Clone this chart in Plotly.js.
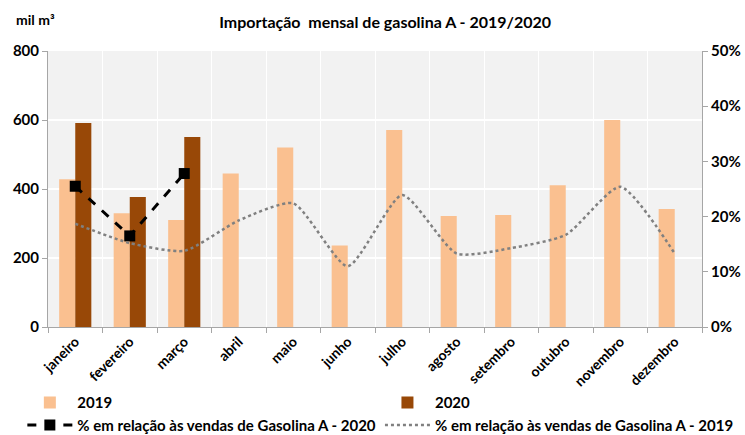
<!DOCTYPE html>
<html>
<head>
<meta charset="utf-8">
<script src="https://cdn.plot.ly/plotly-3.0.1.min.js"></script>
<style>
  body { margin: 0; background: #fff; }
  #myDiv { width: 745px; height: 435px; }
</style>
</head>
<body>
<div id="myDiv"></div>
<script>
// months and values
var meses = ['janeiro', 'fevereiro', 'março', 'abril', 'maio', 'junho',
             'julho', 'agosto', 'setembro', 'outubro', 'novembro', 'dezembro'];

var imp2019 = [428, 330, 310, 445, 520, 236, 571, 322, 325, 411, 600, 342];
var imp2020 = [591, 377, 551, null, null, null, null, null, null, null, null, null];

var pct2020 = [0.255, 0.165, 0.278, null, null, null, null, null, null, null, null, null];
var pct2019 = [0.187, 0.152, 0.138, 0.193, 0.224, 0.110, 0.239, 0.133, 0.143, 0.167, 0.254, 0.133];

var fonte = 'Lato, sans-serif';

var data = [{
    x: meses,
    y: imp2019,
    name: '<b>2019</b>',
    type: 'bar',
    legend: 'legend',
    marker: {color: '#FAC090'}
}, {
    x: meses,
    y: imp2020,
    name: '<b>2020</b>',
    type: 'bar',
    legend: 'legend2',
    marker: {color: '#984807'}
}, {
    x: meses,
    y: pct2020,
    name: '<b>% em relação às vendas de Gasolina A - 2020</b>',
    type: 'scatter',
    mode: 'lines+markers',
    yaxis: 'y2',
    legend: 'legend',
    line: {color: '#000000', width: 3, dash: 'dash'},
    marker: {symbol: 'square', size: 11, color: '#000000'}
}, {
    x: meses,
    y: pct2019,
    name: '<b>% em relação às vendas de Gasolina A - 2019</b>',
    type: 'scatter',
    mode: 'lines',
    yaxis: 'y2',
    legend: 'legend2',
    line: {color: '#808080', width: 2.5, dash: 'dot', shape: 'spline', smoothing: 0.6}
}];

var legendaBase = {
    orientation: 'v',
    xref: 'container', yref: 'container',
    xanchor: 'left',
    y: 0.112, yanchor: 'top',
    itemwidth: 45,
    tracegroupgap: 0,
    traceorder: 'normal',
    font: {size: 15},
    bgcolor: 'rgba(0,0,0,0)'
};

var layout = {
    width: 745,
    height: 435,
    margin: {l: 48, r: 43, t: 51, b: 108, autoexpand: false},
    paper_bgcolor: '#ffffff',
    plot_bgcolor: '#F2F2F2',
    font: {family: fonte, size: 13, color: '#000000'},
    barmode: 'group',
    bargap: 0.41,
    bargroupgap: 0,
    title: {
        text: '<b>Importação  mensal de gasolina A - 2019/2020</b>',
        font: {size: 16},
        x: 0.517, xanchor: 'center',
        y: 0.948, yanchor: 'middle'
    },
    xaxis: {
        type: 'category',
        range: [-0.5, 11.5],
        tickangle: -45,
        tickson: 'boundaries',
        ticks: 'outside',
        ticklen: 5,
        tickcolor: '#A6A6A6',
        showgrid: true,
        gridcolor: '#FFFFFF',
        gridwidth: 1,
        showline: true,
        linecolor: '#A6A6A6',
        linewidth: 1,
        automargin: false,
        tickfont: {size: 14, weight: 'bold'}
    },
    yaxis: {
        range: [0, 800],
        dtick: 200,
        ticks: 'outside',
        ticklen: 5,
        tickcolor: '#A6A6A6',
        showline: true,
        linecolor: '#A6A6A6',
        gridcolor: '#FFFFFF',
        gridwidth: 1.5,
        zeroline: false,
        automargin: false,
        tickfont: {size: 15, weight: 'bold'}
    },
    yaxis2: {
        overlaying: 'y',
        side: 'right',
        range: [0, 0.5],
        dtick: 0.1,
        tickformat: '.0%',
        ticks: 'outside',
        ticklen: 5,
        tickcolor: '#A6A6A6',
        showline: true,
        linecolor: '#A6A6A6',
        showgrid: false,
        zeroline: false,
        automargin: false,
        tickfont: {size: 15, weight: 'bold'}
    },
    legend: Object.assign({}, legendaBase, {x: 0.03}),
    legend2: Object.assign({}, legendaBase, {x: 0.51}),
    showlegend: true,
    annotations: [{
        text: '<b>mil m³</b>',
        xref: 'paper', yref: 'paper',
        x: -0.052, y: 1.115,
        xanchor: 'left', yanchor: 'middle',
        showarrow: false,
        font: {size: 14}
    }]
};

Plotly.newPlot('myDiv', data, layout, {displayModeBar: false});
</script>
</body>
</html>
